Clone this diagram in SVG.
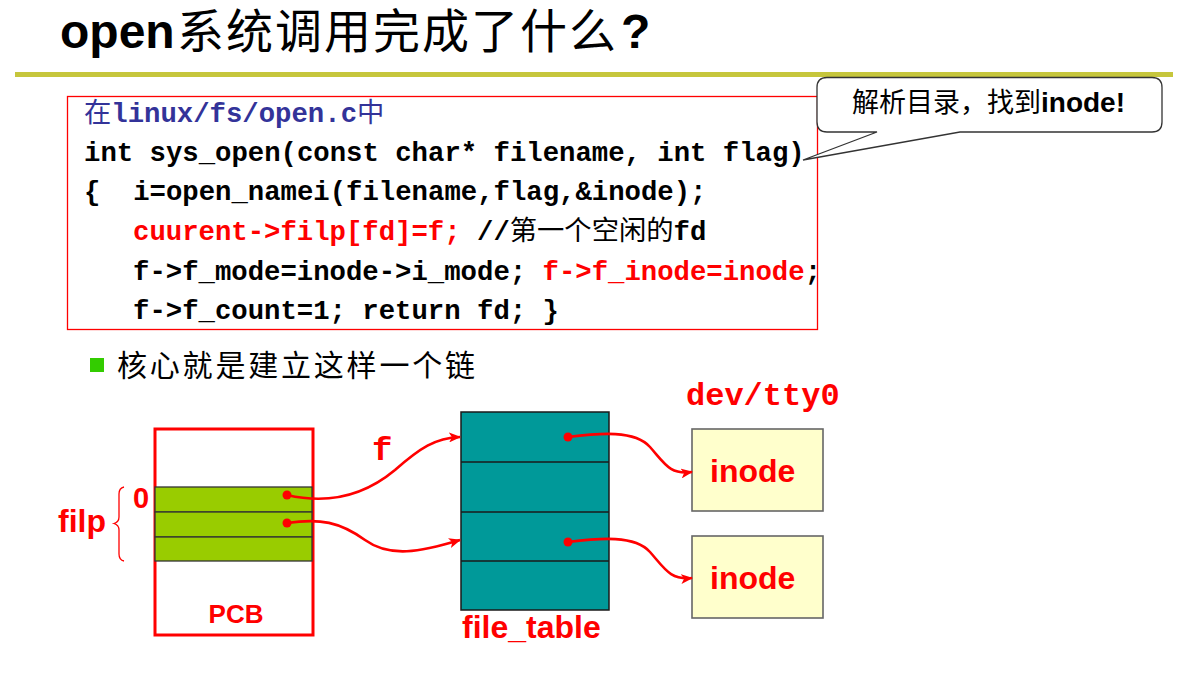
<svg xmlns="http://www.w3.org/2000/svg" width="1193" height="677" viewBox="0 0 1193 677">
<style>
.code{font-family:"Liberation Mono","Noto Sans CJK SC",monospace;font-weight:bold;font-size:27.3px;fill:#000;white-space:pre}
.cjk{font-family:"Noto Sans CJK SC",sans-serif;font-weight:normal}
.red{fill:#FF0000}
.lbl{font-family:"Liberation Sans","Noto Sans CJK SC",sans-serif;font-weight:bold;fill:#FF0000}
.conn{fill:none;stroke:#FF0000;stroke-width:2.6}
.row{fill:#99CC00;stroke:#333;stroke-width:1.3}
.tline{stroke:#1a1a1a;stroke-width:1.5}
.ibox{fill:#FFFFCC;stroke:#666;stroke-width:1.6}
</style>
<defs>
<marker id="arr" markerWidth="12" markerHeight="10" refX="11" refY="5" orient="auto" markerUnits="userSpaceOnUse">
<path d="M0,0 L12,5 L0,10 L3,5 Z" fill="#FF0000"/>
</marker>
</defs>
<rect width="1193" height="677" fill="#fff"/>
<g id="title">
<text x="60" y="48" font-family="Liberation Sans, sans-serif" font-size="48" font-weight="bold" fill="#000">open</text>
<text x="177" y="48" font-family="Noto Sans CJK SC, sans-serif" font-size="47" letter-spacing="2" fill="#000">系统调用完成了什么</text>
<text x="621" y="48" font-family="Liberation Sans, sans-serif" font-size="48" font-weight="bold" fill="#000">?</text>
<rect x="15" y="72" width="1158" height="5" fill="#C6C63C"/>
</g>
<g id="code">
<rect x="67.5" y="96.5" width="750" height="233" fill="none" stroke="#FF0000" stroke-width="1.3"/>
<text class="code" x="84" y="122" style="fill:#333399"><tspan class="cjk">在</tspan>linux/fs/open.c<tspan class="cjk">中</tspan></text>
<text class="code" x="84" y="161">int sys_open(const char* filename, int flag)</text>
<text class="code" x="84" y="200">{  i=open_namei(filename,flag,&amp;inode);</text>
<text class="code" x="133" y="240"><tspan class="red">cuurent-&gt;filp[fd]=f;</tspan> //<tspan class="cjk">第一个空闲的</tspan>fd</text>
<text class="code" x="133" y="280">f-&gt;f_mode=inode-&gt;i_mode; <tspan class="red">f-&gt;f_inode=inode</tspan>;</text>
<text class="code" x="133" y="319">f-&gt;f_count=1; return fd; }</text>
</g>
<g id="callout">
<path d="M827,77.5 H1152 Q1162,77.5 1162,87.5 V122 Q1162,132 1152,132 H960 L803,160 L877,132 H827 Q817,132 817,122 V87.5 Q817,77.5 827,77.5 Z" fill="#fff" stroke="#333" stroke-width="1.3"/>
<text x="852" y="112" font-family="Noto Sans CJK SC, sans-serif" font-size="27" fill="#000">解析目录，找到<tspan font-family="Liberation Sans, sans-serif" font-weight="bold" font-size="28">inode!</tspan></text>
</g>
<g id="bullet">
<rect x="90" y="358" width="14" height="14" fill="#33CC00"/>
<text x="117" y="376" font-family="Noto Sans CJK SC, sans-serif" font-size="30" letter-spacing="2.8" fill="#000">核心就是建立这样一个链</text>
</g>
<g id="pcb">
<rect x="155" y="429" width="158" height="206" fill="#fff" stroke="#FF0000" stroke-width="3"/>
<rect class="row" x="155" y="487" width="157" height="25"/>
<rect class="row" x="155" y="512" width="157" height="25"/>
<rect class="row" x="155" y="537" width="157" height="24"/>
<text class="lbl" x="236" y="623" font-size="26" text-anchor="middle">PCB</text>
<text class="lbl" x="133" y="508" font-size="29">0</text>
</g>
<g id="filp">
<text class="lbl" x="58" y="532" font-size="32">filp</text>
<path d="M124,487 Q119,488 119,494 V517 Q119,522 114,523.5 Q119,525 119,530 V554 Q119,560 124,561" fill="none" stroke="#FF0000" stroke-width="1.3"/>
</g>
<g id="file_table">
<rect x="461" y="412" width="148" height="198" fill="#009999" stroke="#1a1a1a" stroke-width="1.5"/>
<line class="tline" x1="461" y1="462" x2="609" y2="462"/>
<line class="tline" x1="461" y1="512" x2="609" y2="512"/>
<line class="tline" x1="461" y1="561" x2="609" y2="561"/>
<text class="lbl" x="462" y="638" font-size="32">file_table</text>
</g>
<g id="inode1">
<text class="code" x="686" y="405" style="font-size:32px;fill:#FF0000">dev/tty0</text>
<rect class="ibox" x="692" y="429" width="131" height="82"/>
<text class="lbl" x="710" y="482" font-size="32">inode</text>
</g>
<g id="inode2">
<rect class="ibox" x="692" y="536" width="131" height="82"/>
<text class="lbl" x="710" y="589" font-size="32">inode</text>
</g>
<g id="connectors">
<text class="code" x="372" y="460" style="font-size:34px;fill:#FF0000">f</text>
<path class="conn" d="M287,495 C330,505 365,495 395,470 C420,448 435,438 460,437" marker-end="url(#arr)"/>
<path class="conn" d="M287,523 C320,518 340,522 365,540 C390,558 420,552 460,540" marker-end="url(#arr)"/>
<path class="conn" d="M568,437 C600,433 635,430 650,447 C665,464 670,475 692,472" marker-end="url(#arr)"/>
<path class="conn" d="M568,542 C600,538 635,535 650,552 C665,569 670,580 692,578" marker-end="url(#arr)"/>
<circle cx="287" cy="495" r="4.5" fill="#FF0000"/>
<circle cx="287" cy="523" r="4.5" fill="#FF0000"/>
<circle cx="568" cy="437" r="4.5" fill="#FF0000"/>
<circle cx="568" cy="542" r="4.5" fill="#FF0000"/>
</g>
</svg>
